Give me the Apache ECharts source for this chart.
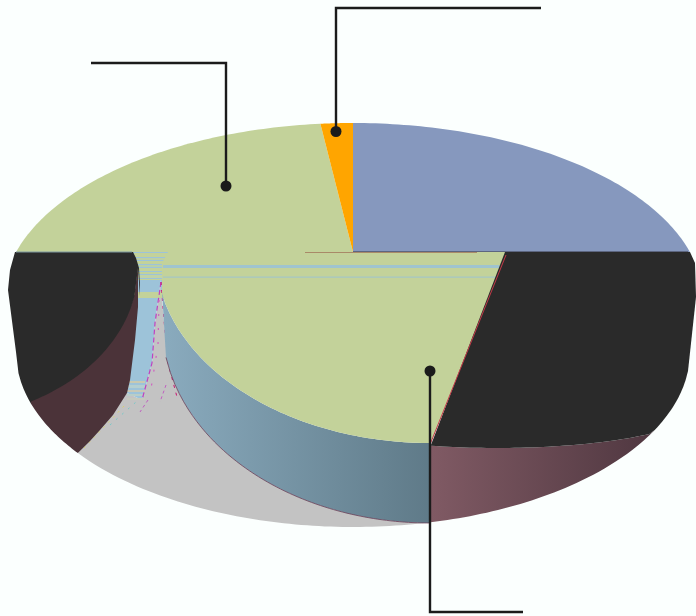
<!DOCTYPE html>
<html><head><meta charset="utf-8">
<style>html,body{margin:0;padding:0;background:#fbfffe}#c{width:696px;height:616px}</style>
<script src="https://cdn.jsdelivr.net/npm/echarts@6/dist/echarts.min.js"></script>
</head><body><div id="c"></div>
<script>
// Slice values, in percent, clockwise from twelve o'clock
const sliceKeys   = ['blue', 'right', 'middle', 'left', 'green', 'orange'];
const sliceValues = [25, 21.3, 18.9, 9.8, 23.2, 1.8];

const BG = '#fbfffe';
const COL = {blue:'#8698be', orange:'#ffa500', green:'#c3d29a', dark:'#2a2a2a', gray:'#c3c3c3',
             strip:'#9dc3d9', leftWall:'#4b3339', edge:'#c23a48'};
// Pie layout (pixels)
const C = {x:353, y:252, rx:337};
const TOP = {x:353, y:300, rx:350, ry:177};          // upper rim of the top face
const OUT = {x:353, y:352, rx:337, ry:175};          // outer rim of the lower wall
const DARK_LOW = {x:497, y:408, rx:200, ry:40};      // lower edge of the right dark face
const LEFT_LOW = {x:-67, y:268, rx:205, ry:152};     // lower edge of the left dark face
const FACE_LOW = {x:430, y:252, rx:275, ry:191};     // curved edge of the lower green face
const WALL_LOW = {x:430, y:323, rx:268, ry:200};     // lower edge of the blue-grey wall
const LEADERS = [
  [[91,63],[226,63],[226,186]],
  [[541,8],[336,8],[336,131.5]],
  [[523,612],[430,612],[430,371]]
];

// Cumulative angles from the values
const angle = {};
let acc = 0;
sliceKeys.forEach((k,i)=>{ const a0=acc; acc+=sliceValues[i]/100*2*Math.PI; angle[k]=[a0,acc]; });

const topLimit = Math.acos((TOP.y-C.y)/TOP.ry);
// Pie angle (0 at twelve o'clock, up to +/-90deg) to a point on the upper rim
const topPoint = a=>{
  const s = a>Math.PI ? a-2*Math.PI : a;
  const t = s*topLimit/(Math.PI/2);
  return [TOP.x+TOP.rx*Math.sin(t), TOP.y-TOP.ry*Math.cos(t)];
};
const arcTop = (a0,a1,n=80)=>{const p=[];for(let i=0;i<=n;i++){p.push(topPoint(a0+(a1-a0)*i/n));}return p;};
const lowerByX = (e,x0,x1,n=60)=>{const p=[];for(let i=0;i<=n;i++){const x=x0+(x1-x0)*i/n;
  const u=(x-e.x)/e.rx; p.push([x,e.y+e.ry*Math.sqrt(Math.max(0,1-u*u))]);}return p;};
const upperRimX = a=>C.x+C.rx*Math.sin(a);

const xSplitRight = upperRimX(angle.right[1]);   // right dark / middle
const xSplitLeft  = upperRimX(angle.middle[1]);  // middle / left dark
const xDarkEnd = 655, xFaceCorner = 505;

const poly=(points,fill,extra)=>({type:'polygon',shape:{points},style:Object.assign({fill,stroke:null},extra||{}),silent:true});
const line=(points,stroke,lineWidth,lineDash)=>({type:'polyline',shape:{points},style:{fill:null,stroke,lineWidth,lineDash:lineDash||null},silent:true});
const rect=(x,y,width,height,fill)=>({type:'rect',shape:{x,y,width,height},style:{fill},silent:true});
const grad=(x0,x1,c0,c1)=>({type:'linear',x:x0,y:0,x2:x1,y2:0,global:true,colorStops:[{offset:0,color:c0},{offset:1,color:c1}]});

const faceEdgeX = y => xFaceCorner + (xSplitRight-xFaceCorner)*(y-C.y)/(443-C.y);

function drawMiddle(){
  const o=[];
  // ground-grey area, narrow spike and striped strip
  const rim=lowerByX(OUT,xSplitLeft,xSplitRight);
  const wall=lowerByX(WALL_LOW,168,xSplitRight).reverse();
  o.push(poly([...rim,...wall,[162,300],[161,280],[155,323],[152,363],[142,400],[127,393]],COL.gray));
  o.push(poly([[132,252],[172,252],[172,300],[161,290],[161,280],[155,323],[152,363],[142,400],[127,393],[100,420],[130,300]],COL.strip));
  [[253,4,'#c3d29a'],[258,2,'#bcd0a4'],[261,3,'#c3d29a'],[265,2,'#b9d0aa'],[268,3,'#c3d29a'],[272,2,'#c3d29a'],[275,3,'#c0d2a8'],[279,1,'#c3d29a'],[292,5,'#c3d29a'],[297,1,'#c3d29a']]
    .forEach(s=>o.push(rect(134,s[0],38,s[1],s[2])));
  [[381,2,'#c9c9b0'],[385,3,'#b4cfd0'],[390,2,'#c8c8b6'],[394,2,'#b9cdc8'],[398,2,'#c6c9bd']]
    .forEach(s=>o.push(rect(127,s[0],18,s[1],s[2])));
  o.push(line([[161,282],[155,323],[152,363],[142,400]],'#c040c0',1.2,[5,3]));
  o.push(line([[161,282],[164,320],[168,363],[177,397]],'#c81070',1,[3,5]));
  o.push(line([[159,300],[158,345],[150,395]],'#d060c0',1.2,[2,12]));
  o.push(line([[148,400],[140,412]],'#c060c0',1,[3,3]));
  o.push(line([[166,385],[160,402]],'#c060c0',1,[3,3]));
  o.push(line([[84,448],[125,405]],'#d8d070',1,[2,5]));
  o.push(line([[110,425],[136,402]],'#78c8c8',1,[2,6]));
  // blue-grey wall under the lower green face
  const top=lowerByX(FACE_LOW,165,xSplitRight);
  const bottom=lowerByX(WALL_LOW,166,xSplitRight).reverse();
  o.push(poly([[162,292],...top,...bottom],grad(162,xSplitRight,'#8aabbe','#5f7a88')));
  o.push(line(bottom,'#6a3d55',0.8));
  // lower green face
  const face=[[168,252],[xFaceCorner,252],[xFaceCorner+1,255],[xSplitRight,443],...lowerByX(FACE_LOW,xSplitRight,165),[162,292],[162,263]];
  o.push(poly(face,COL.green));
  o.push(rect(163,265,faceEdgeX(266)-163,3,'#9fc4cf'));
  o.push(rect(163,276.5,faceEdgeX(277)-163,1.2,'#a5c6c4'));
  return o;
}
function drawLeft(){
  const o=[];
  const rimAll=lowerByX(OUT,31,xSplitLeft,24);
  const edge=lowerByX(LEFT_LOW,31,138,30);
  o.push(poly([...rimAll,[90,441],[100,430],[113,415],[127,393],[130,380],[135,340],[138,307],...edge.slice().reverse().map(p=>[p[0],p[1]-2])],COL.leftWall));
  const rimUp=[[15,252],[10,270],[8,290],...lowerByX(OUT,16,31,6)];
  const faceEdge=[...edge,[140,296],[140,285],[139,268],[136,258],[133,252]];
  o.push(poly([...rimUp,...faceEdge],COL.dark));
  return o;
}
function drawRight(){
  const o=[];
  const low=lowerByX(DARK_LOW,xSplitRight,xDarkEnd,40);
  const rimDown=lowerByX(OUT,xSplitRight,xDarkEnd,40);
  low[low.length-1]=rimDown[rimDown.length-1].slice();
  o.push(poly([...low,...rimDown.slice().reverse()],grad(xSplitRight,xDarkEnd,'#805a64','#4f3740')));
  const flank=lowerByX(OUT,xDarkEnd,688,14).reverse();
  o.push(poly([[xFaceCorner,252],[690,252],[695,263],[696,297],...flank,...low.slice().reverse()],COL.dark));
  o.push(line([[xFaceCorner+1,255],[xSplitRight,443]],COL.edge,1));
  return o;
}
function sector(k,fill){ const a=angle[k]; return [poly([[C.x,C.y],...arcTop(a[0],a[1])],fill)]; }
function drawSeams(){
  return [line([[353,251.5],[688,251.5]],'#5d6680',1),
          line([[16,252],[132,252]],'#7d97a0',1),
          line([[305,252.5],[477,252.5]],'#a98a68',1)];
}
const painters = {
  middle:drawMiddle, left:drawLeft, right:drawRight,
  blue:()=>[poly([[C.x,C.y],...arcTop(0,Math.PI/2)],COL.blue)],
  orange:()=>sector('orange',COL.orange), green:()=>sector('green',COL.green)
};
const drawOrder=['middle','left','right','blue','green','orange'];

const leaderGraphics=[];
LEADERS.forEach(l=>{
  leaderGraphics.push({type:'polyline',shape:{points:l},style:{fill:null,stroke:'#1b1b1b',lineWidth:2.4},z:100,silent:true});
  const e=l[l.length-1];
  leaderGraphics.push({type:'circle',shape:{cx:e[0],cy:e[1],r:5.5},style:{fill:'#1b1b1b'},z:100,silent:true});
});

const chart=echarts.init(document.getElementById('c'),null,{renderer:'canvas'});
chart.setOption({
  backgroundColor:BG,
  animation:false,
  graphic:leaderGraphics,
  series:[{
    type:'custom',
    coordinateSystem:'none',
    silent:true,
    clip:false,
    data:drawOrder.map(k=>({name:k,value:sliceValues[sliceKeys.indexOf(k)]})),
    renderItem:(params)=>{
      const k=drawOrder[params.dataIndex];
      const children=painters[k]();
      if(k==='orange') children.push(...drawSeams());
      return {type:'group',children};
    }
  }]
});
</script></body></html>
